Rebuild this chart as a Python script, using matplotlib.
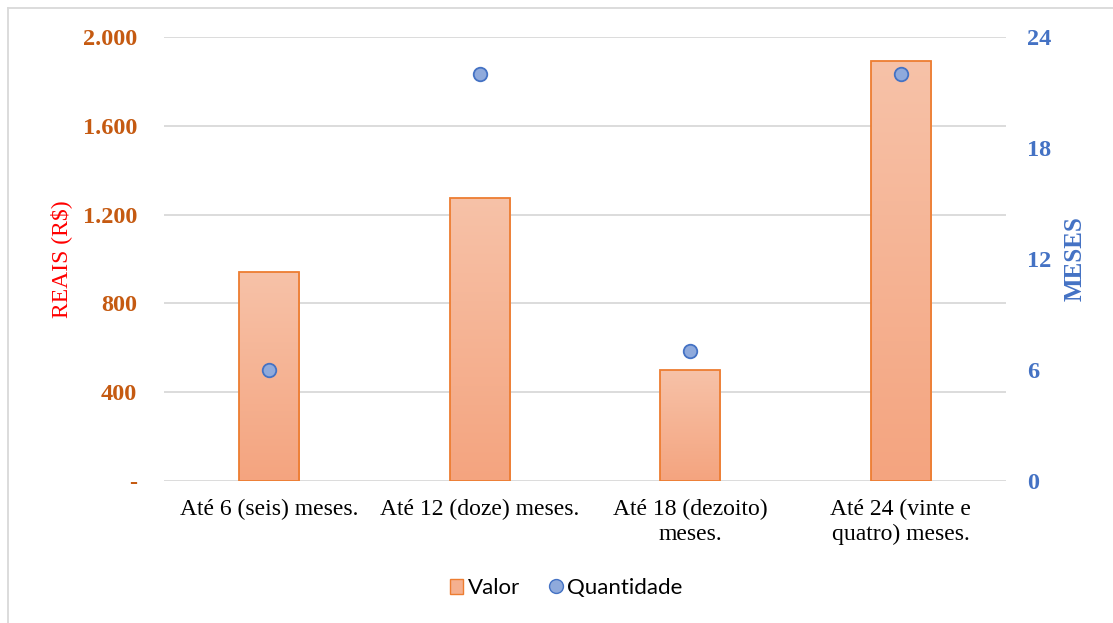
import numpy as np
import matplotlib.pyplot as plt
from matplotlib.lines import Line2D
from matplotlib.patches import Patch
from matplotlib.colors import LinearSegmentedColormap

# dados
categorias = ["Até 6 (seis) meses.", "Até 12 (doze) meses.",
              "Até 18 (dezoito)\nmeses.", "Até 24 (vinte e\nquatro) meses."]
valor = [940, 1275, 500, 1890]
quantidade = [6, 22, 7, 22]
ticks_reais = [0, 400, 800, 1200, 1600, 2000]
labels_reais = ["-", "400", "800", "1.200", "1.600", "2.000"]
ticks_meses = [0, 6, 12, 18, 24]

serif = "Liberation Serif"
laranja = "#C55A11"
azul = "#4472C4"

fig = plt.figure(figsize=(11.13, 6.23), dpi=100)
ax = fig.add_axes([0.147, 0.228, 0.757, 0.7126])
ax2 = ax.twinx()

x = np.arange(len(categorias))
bars = ax.bar(x, valor, width=0.285, facecolor="none", edgecolor="#ED7D31",
              linewidth=1.3, zorder=3)

# gradiente dentro das barras
grad = np.linspace(0, 1, 256).reshape(-1, 1)
cmap = LinearSegmentedColormap.from_list("g", ["#F4A47F", "#F7C2A8"])
for b in bars:
    x0, y0 = b.get_x(), b.get_y()
    im = ax.imshow(grad, cmap=cmap, origin="lower", aspect="auto",
                   extent=[x0, x0 + b.get_width(), y0, y0 + b.get_height()],
                   zorder=2)
    im.set_clip_path(b)

ax.set_xlim(-0.5, len(categorias) - 0.5)
ax.set_ylim(0, 2000)
ax.set_yticks(ticks_reais)
ax.set_yticklabels(labels_reais)
ax.grid(axis="y", color="#D9D9D9", linewidth=1.3, zorder=0)
ax.set_axisbelow(True)
ax.set_xticks(x)
ax.set_xticklabels(categorias, fontfamily=serif, fontsize=17, linespacing=1.25)
ax.tick_params(axis="x", length=0, pad=13)
ax.tick_params(axis="y", length=0, pad=19, colors=laranja, labelsize=17.5)
for t in ax.get_yticklabels():
    t.set_fontfamily(serif)
    t.set_fontweight("bold")
ax.set_ylabel("REAIS (R$)", color="red", fontfamily=serif, fontsize=17, labelpad=8)

ax2.scatter(x, quantidade, s=95, color="#8FAADC", edgecolor=azul, linewidth=1.3, zorder=4)
ax2.set_ylim(0, 24)
ax2.set_yticks(ticks_meses)
ax2.tick_params(axis="y", length=0, pad=15, colors=azul, labelsize=17.5)
for t in ax2.get_yticklabels():
    t.set_fontfamily(serif)
    t.set_fontweight("bold")
ax2.set_ylabel("MESES", color=azul, fontfamily=serif, fontsize=18,
               fontweight="bold", labelpad=9)

for a in (ax, ax2):
    for s in a.spines.values():
        s.set_visible(False)

handles = [Patch(facecolor="#F5B08F", edgecolor="#ED7D31", label="Valor"),
           Line2D([], [], marker="o", linestyle="none", markersize=10,
                  markerfacecolor="#8FAADC", markeredgecolor=azul, label="Quantidade")]
fig.legend(handles=handles, loc="center", bbox_to_anchor=(0.509, 0.056), ncol=2,
           frameon=False, prop={"family": "Lato", "size": 16}, handlelength=0.55,
           handletextpad=0.25, columnspacing=1.3)

# borda do gráfico
fig.add_artist(Line2D([8 / 1113, 8 / 1113], [0, 1 - 8 / 623], color="#D9D9D9",
                      linewidth=1.3, transform=fig.transFigure))
fig.add_artist(Line2D([8 / 1113, 1], [1 - 8 / 623, 1 - 8 / 623], color="#D9D9D9",
                      linewidth=1.3, transform=fig.transFigure))

fig.savefig("out.png", dpi=100)
